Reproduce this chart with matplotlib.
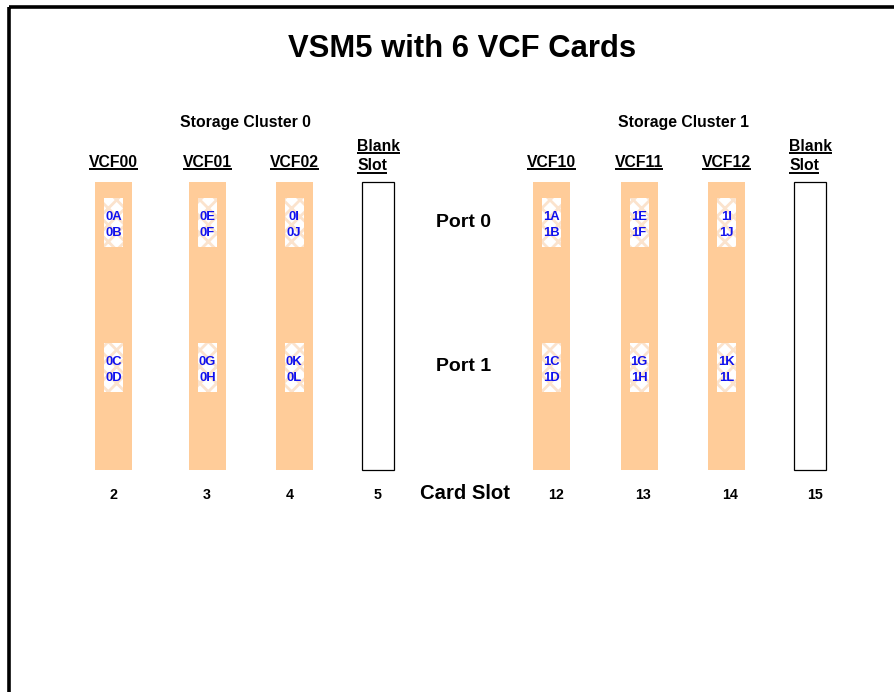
import matplotlib
matplotlib.use('Agg')
import matplotlib.pyplot as plt
from matplotlib.patches import Rectangle

plt.rcParams['font.family'] = ['Liberation Sans', 'DejaVu Sans']
plt.rcParams['hatch.linewidth'] = 2.0

# data
title = 'VSM5 with 6 VCF Cards'
clusters = ['Storage Cluster 0', 'Storage Cluster 1']
slots = [2, 3, 4, 5, 12, 13, 14, 15]
cards = ['VCF00', 'VCF01', 'VCF02', None, 'VCF10', 'VCF11', 'VCF12', None]
port0 = [('0A', '0B'), ('0E', '0F'), ('0I', '0J'), None,
         ('1A', '1B'), ('1E', '1F'), ('1I', '1J'), None]
port1 = [('0C', '0D'), ('0G', '0H'), ('0K', '0L'), None,
         ('1C', '1D'), ('1G', '1H'), ('1K', '1L'), None]

# layout (pixels, y measured from the top)
W, H = 894, 692
slot_x = [113.5, 207.5, 294, 378, 551.5, 639, 726.5, 810]
num_x = [113, 207, 290, 378, 556, 643, 730, 815]
cluster_x = [245, 683]
card_top, card_bot = 182, 470
card_w, blank_w = 37, 32
box_w = 19
box_top = [198, 343]
box_h = 49

peach = '#ffcc99'
blue = '#1010ee'

fig = plt.figure(figsize=(W / 100, H / 100), dpi=100)
ax = fig.add_axes([0, 0, 1, 1])
ax.set_xlim(0, W)
ax.set_ylim(H, 0)
ax.axis('off')

# outer frame (runs off the right and bottom edges)
ax.add_patch(Rectangle((8.7, 6.6), W + 20, H + 20, fill=False,
                       edgecolor='black', linewidth=2.6))

ax.text(462, 57.3, title, fontsize=22.3, fontweight='bold', ha='center', va='baseline')

for cx, name in zip(cluster_x, clusters):
    ax.text(cx, 127, name, fontsize=11.3, fontweight='bold', ha='center', va='baseline')

fig.canvas.draw()
rend = fig.canvas.get_renderer()


def underline(t, y):
    bb = t.get_window_extent(renderer=rend)
    ax.plot([bb.x0, bb.x1], [y, y], color='black', linewidth=1.4,
            solid_capstyle='butt')


for i, x in enumerate(slot_x):
    if cards[i] is None:
        ax.add_patch(Rectangle((x - blank_w / 2, card_top), blank_w,
                               card_bot - card_top, facecolor='white',
                               edgecolor='black', linewidth=0.9))
        for word, base in zip(['Blank', 'Slot'], [150.7, 170.2]):
            t = ax.text(x - 21, base, word, fontsize=11.3,
                        fontweight='bold', ha='left', va='baseline')
            underline(t, base + 2.3)
    else:
        ax.add_patch(Rectangle((x - card_w / 2, card_top), card_w,
                               card_bot - card_top, facecolor=peach,
                               edgecolor='none', linewidth=0))
        t = ax.text(x, 166.7, cards[i], fontsize=11.3, fontweight='bold',
                    ha='center', va='baseline')
        underline(t, 169.4)
        for top, pair in zip(box_top, [port0[i], port1[i]]):
            ax.add_patch(Rectangle((x - box_w / 2, top), box_w, box_h,
                                   facecolor='white', edgecolor='none',
                                   linewidth=0))
            ax.add_patch(Rectangle((x - box_w / 2, top), box_w, box_h,
                                   facecolor='none', edgecolor='#fbe3cd',
                                   hatch='xx', linewidth=0))
            ax.text(x, top + 22.3, pair[0], fontsize=9.4, fontweight='bold',
                    color=blue, ha='center', va='baseline')
            ax.text(x, top + 38, pair[1], fontsize=9.4, fontweight='bold',
                    color=blue, ha='center', va='baseline')
    ax.text(num_x[i], 498.7, str(slots[i]), fontsize=10.3, fontweight='bold',
            ha='center', va='baseline')

ax.text(464, 226.7, 'Port 0', fontsize=14, fontweight='bold', ha='center', va='baseline')
ax.text(464, 370.7, 'Port 1', fontsize=14, fontweight='bold', ha='center', va='baseline')
ax.text(465, 499, 'Card Slot', fontsize=14.6, fontweight='bold', ha='center', va='baseline')

fig.savefig('out.png', dpi=100)
